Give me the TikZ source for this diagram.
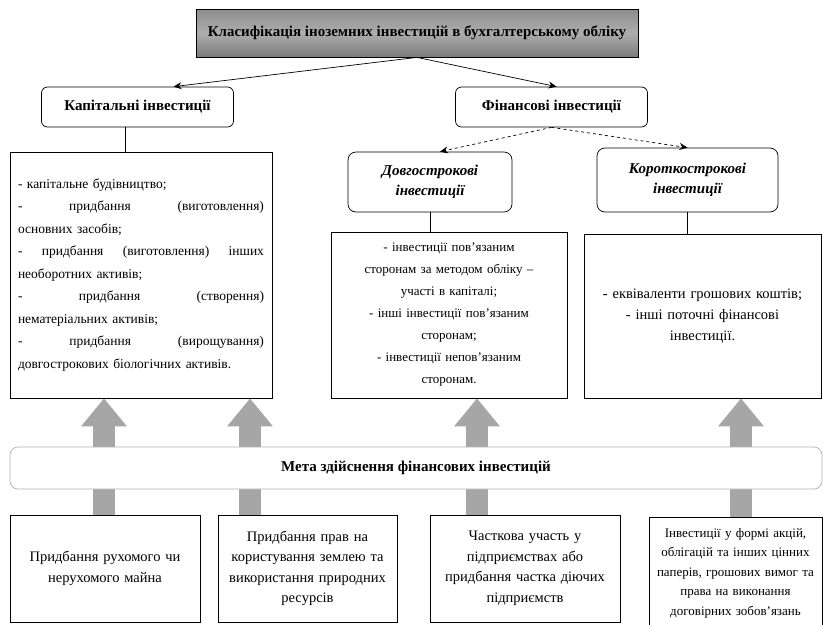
\documentclass[tikz,border=0pt]{standalone}
\usepackage{fontspec}
\setmainfont{Liberation Serif}
\usetikzlibrary{positioning, arrows.meta}

\tikzset{
  headbox/.style={draw, line width=0.8pt, top color=black!45, bottom color=black!52, middle color=black!32,
    minimum width=442pt, minimum height=48pt, font=\fontsize{15}{17}\selectfont\bfseries},
  kindbox/.style={draw, fill=white, rounded corners=6pt, minimum width=192pt, minimum height=40pt,
    font=\fontsize{15}{17}\selectfont\bfseries},
  termbox/.style={draw, rounded corners=8pt, align=center, font=\fontsize{15}{20}\selectfont\bfseries\itshape},
  listbox/.style={draw, inner xsep=8pt, inner ysep=0pt, font=\fontsize{13.5}{22.5}\selectfont},
  srcbox/.style={draw, inner xsep=6pt, inner ysep=0pt, align=center, minimum height=107pt,
    font=\fontsize{14.5}{20.5}\selectfont},
  aimbar/.style={draw=black!30, fill=white, rounded corners=8pt, minimum width=812pt, minimum height=42pt,
    font=\fontsize{15}{17}\selectfont\bfseries},
  tie/.style={-{Stealth[length=8pt,width=7pt]}},
  tiedash/.style={tie, dashed},
  bigarrow/.style={line width=22pt, black!35, -{Triangle[width=44pt,length=28pt]}},
}

\begin{document}
\begin{tikzpicture}[x=1pt, y=1pt, line width=0.7pt]
  \useasboundingbox (0,0) rectangle (835,-624);

  % classification
  \node[headbox] (head) at (417,-33) {Класифікація іноземних інвестицій в бухгалтерському обліку};
  \node[kindbox] (cap) at (137.5,-107) {Капітальні інвестиції};
  \node[kindbox] (fin) at (551.5,-107) {Фінансові інвестиції};
  \node[termbox, minimum width=164pt, minimum height=60pt] (long) at (430,-182) {Довгострокові\\інвестиції};
  \node[termbox, minimum width=181pt, minimum height=64pt] (short) at (687.5,-180) {Короткострокові\\інвестиції};

  % lists
  \node[listbox, align=left, text width=246pt, minimum height=246pt] (capl) at (141,-275)
    {- капітальне будівництво;\\
     -\hfill придбання\hfill (виготовлення)\\
     основних засобів;\\
     -\hfill придбання\hfill (виготовлення)\hfill інших\\
     необоротних активів;\\
     -\hfill придбання\hfill (створення)\\
     нематеріальних активів;\\
     -\hfill придбання\hfill (вирощування)\\
     довгострокових біологічних активів.};
  \node[listbox, align=center, text width=220pt, minimum height=166pt, font=\fontsize{13}{22}\selectfont] (longl) at (449,-315)
    {- інвестиції пов’язаним\\ сторонам за методом обліку –\\ участі в капіталі;\\
     - інші інвестиції пов’язаним\\ сторонам;\\ - інвестиції непов’язаним\\ сторонам.};
  \node[listbox, align=center, text width=221pt, minimum height=164pt, font=\fontsize{14.5}{21}\selectfont] (shortl) at (702.5,-316)
    {- еквіваленти грошових коштів;\\ - інші поточні фінансові\\ інвестиції.};

  % sources
  \node[srcbox, text width=178pt] (src1) at (105,-568.5) {Придбання рухомого чи\\ нерухомого майна};
  \node[srcbox, text width=167pt] (src2) at (307.5,-568.5)
    {Придбання прав на\\ користування землею та\\ використання природних\\ ресурсів};
  \node[srcbox, text width=178pt] (src3) at (525,-568.5)
    {Часткова участь у\\ підприємствах або\\ придбання частка діючих\\ підприємств};
  \node[srcbox, text width=161pt, minimum height=112pt, anchor=north,
    font=\fontsize{13}{19.5}\selectfont] (src4) at (735.5,-517)
    {Інвестиції у формі акцій,\\ облігацій та інших цінних\\ паперів, грошових вимог та\\ права на виконання\\ договірних зобов’язань};

  \draw[tie] (head.south) -- ([xshift=36pt]cap.north);
  \draw[tie] (head.south) -- ([xshift=5pt]fin.north);
  \draw[tiedash] (fin.south) -- ([xshift=10pt]long.north);
  \draw[tiedash] (fin.south) -- (short.north);
  \draw ([xshift=-12pt]cap.south) -- ([xshift=-12pt]cap.south |- capl.north);
  \draw (long.south) -- (long.south |- longl.north);
  \draw (short.south) -- (short.south |- shortl.north);

  % big arrows behind the bar
  \coordinate (a1) at (104,0);
  \coordinate (a2) at (250,0);
  \coordinate (a3) at (477,0);
  \coordinate (a4) at (741,0);
  \draw[bigarrow] (src1.north -| a1) -- (capl.south -| a1);
  \draw[bigarrow] (src2.north -| a2) -- (capl.south -| a2);
  \draw[bigarrow] (src3.north -| a3) -- (longl.south -| a3);
  \draw[bigarrow] (src4.north -| a4) -- (shortl.south -| a4);

  \node[aimbar] (aim) at (416,-468) {Мета здійснення фінансових інвестицій};
\end{tikzpicture}
\end{document}
